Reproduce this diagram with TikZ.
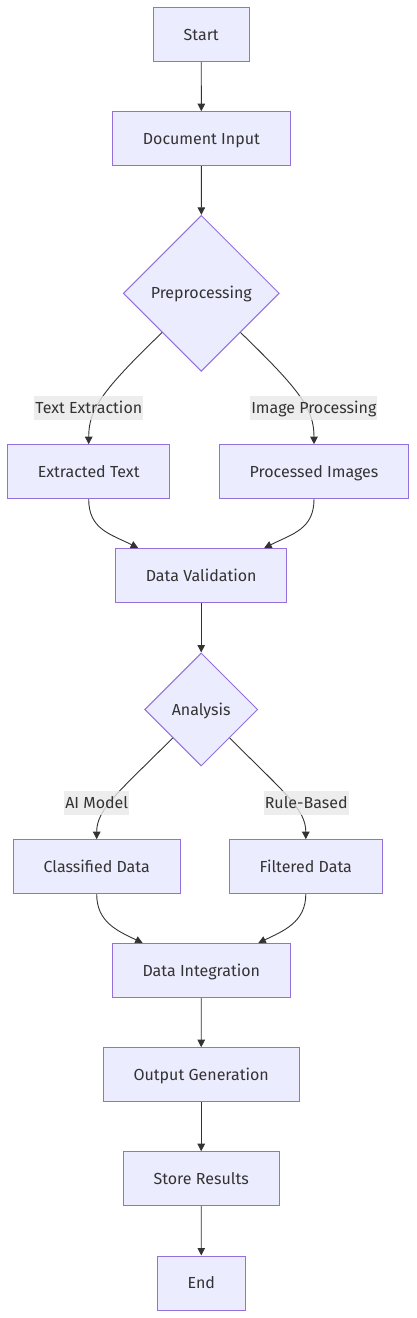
\documentclass[tikz,border=0pt]{standalone}
\usepackage{fontspec}
\setmainfont{Fira Sans}
\usetikzlibrary{shapes.geometric,arrows.meta}
\definecolor{nodefill}{HTML}{ECECFF}
\definecolor{nodeline}{HTML}{9370DB}
\definecolor{edgeline}{HTML}{333333}
\definecolor{labelfill}{HTML}{E8E8E8}
\tikzset{
  box/.style={draw=nodeline, fill=nodefill, line width=1pt, inner sep=0pt,
    minimum width=#1, minimum height=54pt, text=edgeline,
    text height=13pt, text depth=2pt, font=\fontsize{16}{19}\selectfont},
  choice/.style={diamond, aspect=1, draw=nodeline, fill=nodefill, line width=1pt,
    inner sep=0pt, minimum width=#1, minimum height=#1, text=edgeline,
    text height=13pt, text depth=2pt, font=\fontsize{16}{19}\selectfont},
  flow/.style={draw=edgeline, line width=0.9pt, -{Triangle[length=7.5pt,width=7.5pt]}},
  edgetext/.style={fill=labelfill, fill opacity=0.8, text opacity=1, text=edgeline,
    inner xsep=1pt, inner ysep=4pt, text height=13.5pt, text depth=2.5pt,
    font=\fontsize{16}{19}\selectfont}
}
\begin{document}
\begin{tikzpicture}[x=1pt, y=-1pt]
      \useasboundingbox (0,0) rectangle (416,1318);
      \node[box=95.7pt] (start) at (201.2,34.7) {Start};
      \node[box=177.3pt] (docin) at (201.4,138.7) {Document Input};
      \node[choice=156pt] (prep) at (201.3,293.3) {Preprocessing};
      \node[box=162pt] (ext) at (88.7,471.7) {Extracted Text};
      \node[box=189.4pt] (proc) at (314,471.7) {Processed Images};
      \node[box=171pt] (dval) at (201.2,575.5) {Data Validation};
      \node[choice=113pt] (anal) at (201.2,709.5) {Analysis};
      \node[box=166.7pt] (clas) at (96.7,866.7) {Classified Data};
      \node[box=153pt] (filt) at (305.8,866.7) {Filtered Data};
      \node[box=178pt] (dint) at (201.3,970.5) {Data Integration};
      \node[box=195.7pt] (outg) at (201.2,1074.7) {Output Generation};
      \node[box=155.7pt] (store) at (201.2,1178.7) {Store Results};
      \node[box=88pt] (end) at (201.3,1283) {End};
      \begin{scope}[flow]
        \draw (start) -- (docin);
        \draw (docin) -- (prep);
        \draw (prep.south west) .. controls +(-60,58) and +(0,-35) .. (ext.north);
        \draw (prep.south east) .. controls +(60,58) and +(0,-35) .. (proc.north);
        \draw (ext.south) .. controls +(0,30) and +(-28,-14) .. ([xshift=-63pt]dval.north);
        \draw (proc.south) .. controls +(0,30) and +(28,-14) .. ([xshift=63pt]dval.north);
        \draw (dval) -- (anal);
        \draw (anal.south west) .. controls +(-55,55) and +(0,-30) .. (clas.north);
        \draw (anal.south east) .. controls +(55,55) and +(0,-30) .. (filt.north);
        \draw (clas.south) .. controls +(0,28) and +(-25,-12) .. ([xshift=-58.6pt]dint.north);
        \draw (filt.south) .. controls +(0,28) and +(25,-12) .. ([xshift=57pt]dint.north);
        \draw (dint) -- (outg);
        \draw (outg) -- (store);
        \draw (store) -- (end);
      \end{scope}
      \node[edgetext] (lbltext) at (88.8,407.8) {Text Extraction};
      \node[edgetext] (lblimage) at (313.8,407.8) {Image Processing};
      \node[edgetext] (lblai) at (96.7,802.7) {AI Model};
      \node[edgetext] (lblrule) at (306.2,802.7) {Rule-Based};
    \end{tikzpicture}
\end{document}
